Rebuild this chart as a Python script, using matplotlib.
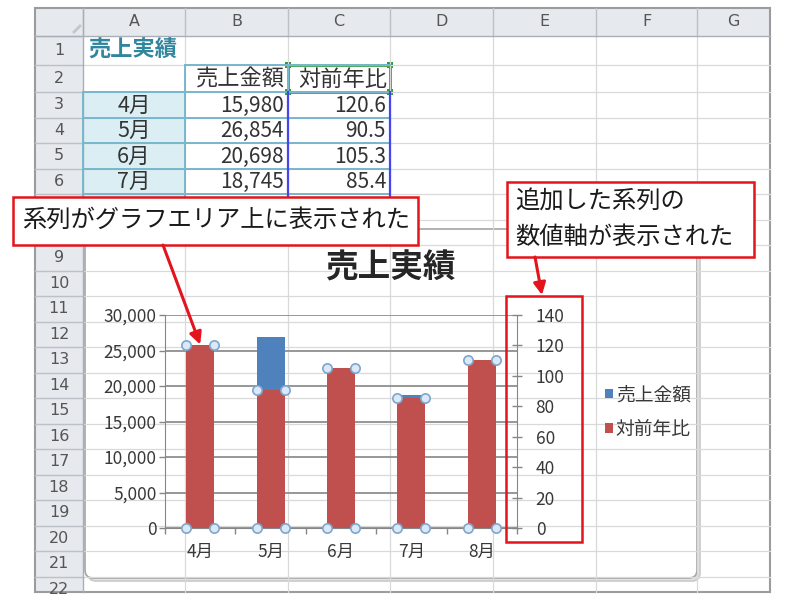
import numpy as np
import matplotlib
matplotlib.use('Agg')
import matplotlib.pyplot as plt
from matplotlib.patches import Rectangle, FancyBboxPatch
from matplotlib.ticker import FuncFormatter

plt.rcParams['font.family'] = ['Noto Sans CJK JP', 'DejaVu Sans']

# data (8月の売上金額は赤い棒に隠れているので推定)
months = ['4月', '5月', '6月', '7月', '8月']
sales = [15980, 26854, 20698, 18745, 21300]
ratio = [120.6, 90.5, 105.3, 85.4, 110.2]

sheet_title = '売上実績'
col_names = ['売上金額', '対前年比']
col_letters = ['A', 'B', 'C', 'D', 'E', 'F', 'G']
note_left = '系列がグラフエリア上に表示された'
note_right = ['追加した系列の', '数値軸が表示された']

BLUE = '#4f81bd'
RED = '#c0504d'
NOTE_RED = '#e3141b'
TEAL = '#31859c'
AXIS_GRAY = '#868686'
TXT = '#383838'

fig = plt.figure(figsize=(8, 6), dpi=100)

# ---- background sheet (pixel coordinates) ----
bg = fig.add_axes([0, 0, 1, 1], zorder=0)
bg.set_xlim(0, 800)
bg.set_ylim(600, 0)
bg.axis('off')

col_x = [35, 83, 185, 288, 390, 493, 596, 697, 770]
row_y = [8, 36, 65, 92] + [92 + 25.5 * k for k in range(1, 20)] + [602]
hidden_rows = [7, 8]   # under the callout / chart

clip = Rectangle((35, 8), 735, 584, transform=bg.transData)

bg.add_patch(Rectangle((35, 8), 735, 584, fc='white', ec='none'))
bg.add_patch(Rectangle((35, 8), 735, 28, fc='#e6e9ee', ec='none'))
bg.add_patch(Rectangle((35, 36), 48, 556, fc='#e6e9ee', ec='none'))

# cell grid
for x in col_x[2:-1]:
    bg.plot([x, x], [36, 592], color='#d9d9d9', lw=0.9)
for y in row_y[2:23]:
    bg.plot([83, 770], [y, y], color='#d9d9d9', lw=0.9)

# header grid + labels
for x in col_x[1:-1]:
    bg.plot([x, x], [8, 36], color='#bcc1c8', lw=1)
for y in row_y[1:23]:
    bg.plot([35, 83], [y, y], color='#bcc1c8', lw=1)
bg.plot([35, 770], [36, 36], color='#a9afb8', lw=1)
bg.plot([83, 83], [8, 592], color='#a9afb8', lw=1)
bg.plot([74, 80], [32, 26], color='#c3c7cc', lw=2)

for i, letter in enumerate(col_letters):
    bg.text((col_x[i + 1] + col_x[i + 2]) / 2, 22, letter, ha='center',
            va='center', fontsize=11.5, color='#555555', family='DejaVu Sans')
for r in range(1, 23):
    if r in hidden_rows:
        continue
    t = bg.text(59, (row_y[r] + row_y[r + 1]) / 2, str(r), ha='center',
                va='center', fontsize=11.5, color='#555555', family='DejaVu Sans')
    t.set_clip_path(clip)

# table
bg.text(88, (row_y[1] + row_y[2]) / 2, sheet_title, ha='left', va='center',
        fontsize=16, fontweight='bold', color=TEAL)
for j, name in enumerate(col_names):
    bg.text(col_x[j + 3] - 3, (row_y[2] + row_y[3]) / 2 + 1, name, ha='right',
            va='center', fontsize=16, color='#333333')
for i, m in enumerate(months):
    r = 3 + i
    y0, y1 = row_y[r], row_y[r + 1]
    bg.add_patch(Rectangle((83, y0), 102, y1 - y0, fc='#dbeef4', ec='none'))
    if r in hidden_rows:
        continue
    bg.text(134, (y0 + y1) / 2 + 1, m, ha='center', va='center', fontsize=15.5, color='#333333')
    bg.text(284, (y0 + y1) / 2 + 1, f'{sales[i]:,}', ha='right', va='center',
            fontsize=15, color='#333333')
    bg.text(386, (y0 + y1) / 2 + 1, f'{ratio[i]:.1f}', ha='right', va='center',
            fontsize=15, color='#333333')

table_bottom = row_y[3 + len(months)]
for y in row_y[2:4 + len(months)]:
    x_start = 83 if y > 65 else 185
    bg.plot([x_start, 390], [y, y], color='#78b7cc', lw=1.4)
for x in [83, 185, 288]:
    bg.plot([x, x], [65 if x > 83 else 92, table_bottom], color='#78b7cc', lw=1.4)

# selected ranges
bg.plot([288, 288, 390, 390], [92, table_bottom, table_bottom, 92], color='#4646f0', lw=1.6)
bg.add_patch(Rectangle((288, 65), 102, 27, fc='none', ec='#2f9a3a', lw=2))
for hx in [288, 390]:
    for hy in [65, 92]:
        bg.add_patch(Rectangle((hx - 3, hy - 3), 6, 6, fc='#2f9a3a', ec='none'))

# sheet border
bg.add_patch(Rectangle((35, 8), 735, 584, fc='none', ec='#9c9c9c', lw=1.5))

# chart area
bg.add_patch(FancyBboxPatch((88, 232), 612, 349, boxstyle='round,pad=0,rounding_size=8',
                            fc='#e2e2e2', ec='#c9c9c9', lw=1.2))
bg.add_patch(FancyBboxPatch((85, 229), 612, 349, boxstyle='round,pad=0,rounding_size=8',
                            fc='white', ec='#a3a3a3', lw=1.2))

# ---- chart ----
x = np.arange(len(months))
bw = 0.4

ax = fig.add_axes([165 / 800, 1 - 528 / 600, 352 / 800, 213 / 600], zorder=2)
ax.patch.set_visible(False)
b1 = ax.bar(x, sales, bw, color=BLUE, zorder=3)
ax.set_xlim(-0.5, len(months) - 0.5)
ax.set_ylim(0, 30000)
ax.set_yticks(np.arange(0, 30001, 5000))
ax.yaxis.set_major_formatter(FuncFormatter(lambda v, p: f'{int(v):,}'))
ax.set_xticks(x)
ax.set_xticklabels(months)
ax.set_xticks(np.arange(-0.5, len(months), 1), minor=True)
ax.tick_params(axis='x', which='major', length=0, pad=11, labelsize=12.5, labelcolor=TXT)
ax.tick_params(axis='x', which='minor', length=4, width=1, color=AXIS_GRAY)
ax.tick_params(axis='y', length=4, width=1, color=AXIS_GRAY, pad=2,
               labelsize=12.5, labelcolor=TXT)
ax.yaxis.grid(True, color='#979797', lw=1.4)
ax.set_axisbelow(True)
for s in ['top', 'right']:
    ax.spines[s].set_visible(False)
for s in ['left', 'bottom']:
    ax.spines[s].set_color(AXIS_GRAY)
    ax.spines[s].set_zorder(2)

ax2 = ax.twinx()
ax2.set_zorder(3)
b2 = ax2.bar(x, ratio, bw, color=RED)
ax2.set_ylim(0, 140)
ax2.set_yticks(np.arange(0, 141, 20))
ax2.tick_params(axis='y', direction='inout', length=7, width=1, color=AXIS_GRAY,
                pad=10, labelsize=12.5, labelcolor=TXT)
for s in ['top', 'left', 'bottom']:
    ax2.spines[s].set_visible(False)
ax2.spines['right'].set_color(AXIS_GRAY)

# selection handles on the red series
hx = np.concatenate([x - bw / 2, x + bw / 2, x - bw / 2, x + bw / 2])
hy = np.concatenate([ratio, ratio, np.zeros(len(x)), np.zeros(len(x))])
ax2.scatter(hx, hy, s=45, facecolor='#dbe8f5', edgecolor='#7ea6cf', lw=1.2,
            zorder=5, clip_on=False)

ax2.legend([b1, b2], col_names, loc='center left',
           bbox_to_anchor=(596 / 800, 1 - 412 / 600), bbox_transform=fig.transFigure,
           frameon=False, fontsize=13.5, handlelength=0.4, handleheight=0.4,
           handletextpad=0.15, labelspacing=0.7, borderpad=0, labelcolor=TXT)

# ---- overlay: title and notes ----
ov = fig.add_axes([0, 0, 1, 1], zorder=10)
ov.set_xlim(0, 800)
ov.set_ylim(600, 0)
ov.axis('off')
ov.patch.set_visible(False)

ov.text(390, 268, sheet_title, ha='center', va='center', fontsize=23.5,
        fontweight='bold', color='#262626')

ov.add_patch(Rectangle((13, 197), 405, 48, fc='white', ec=NOTE_RED, lw=1.8))
ov.text(22, 220, note_left, ha='left', va='center', fontsize=17.5, color='#1a1a1a')

ov.add_patch(Rectangle((507, 182), 247, 75, fc='white', ec=NOTE_RED, lw=1.8))
ov.text(515, 202, note_right[0], ha='left', va='center', fontsize=17.5, color='#1a1a1a')
ov.text(515, 237, note_right[1], ha='left', va='center', fontsize=17.5, color='#1a1a1a')

ov.add_patch(Rectangle((506, 296), 76, 246, fc='none', ec=NOTE_RED, lw=1.8))

ov.annotate('', xy=(0, ratio[0]), xycoords=ax2.transData, xytext=(163, 245),
            textcoords=ov.transData,
            arrowprops=dict(arrowstyle='-|>', color=NOTE_RED, lw=2.2,
                            mutation_scale=18, shrinkA=0, shrinkB=0))
ov.annotate('', xy=(542, 295), xytext=(535, 257),
            arrowprops=dict(arrowstyle='-|>', color=NOTE_RED, lw=2.2,
                            mutation_scale=18, shrinkA=0, shrinkB=0))

fig.savefig('out.png', dpi=100)
